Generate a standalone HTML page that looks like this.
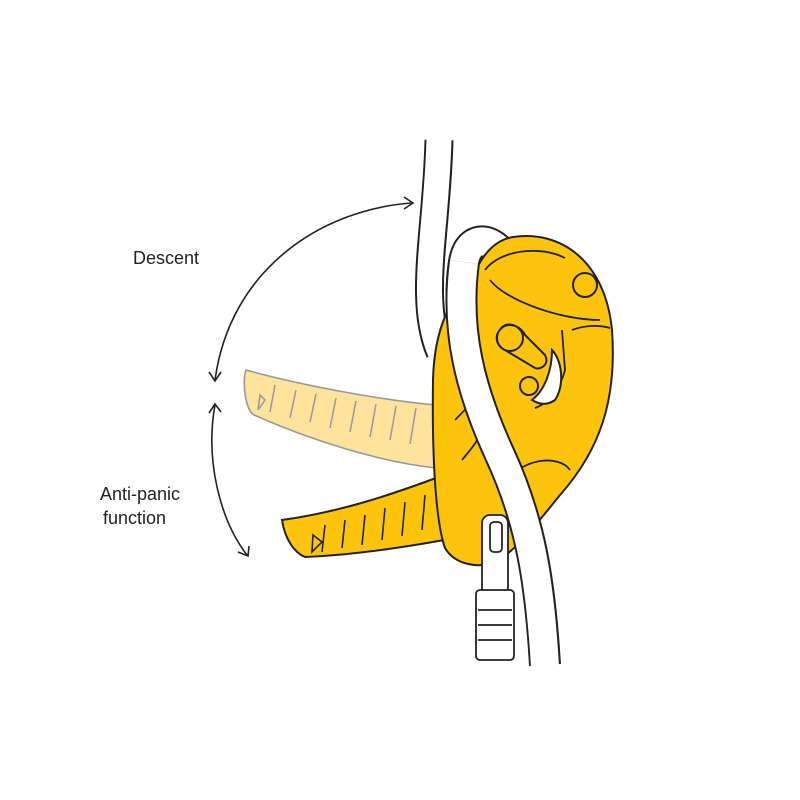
<!DOCTYPE html>
<html><head><style>body{margin:0;background:#fff}svg{display:block}</style></head><body>
<svg width="800" height="800" viewBox="0 0 800 800" xmlns="http://www.w3.org/2000/svg" font-family="Liberation Sans, sans-serif">
<rect width="800" height="800" fill="#fff"/>
<g fill="none" stroke="#222" stroke-width="1.6">
<path d="M411,203 C320,210 230,270 215,380"/>
<path d="M404,197 L413,203 L404,209"/>
<path d="M209,372 L215,381 L221,372"/>
<path d="M215,405 C205,460 220,520 247,555"/>
<path d="M209,413 L215,404 L221,412"/>
<path d="M238,552 L248,556 L249,546"/>
</g>
<text x="133" y="264" font-size="18" fill="#222">Descent</text>
<text x="100" y="500" font-size="18" fill="#222">Anti-panic</text>
<text x="103" y="524" font-size="18" fill="#222">function</text>
<path d="M439,140 C437,230 418,300 440,352" fill="none" stroke="#222" stroke-width="29" stroke-linecap="butt"/>
<path d="M439,138 C437,230 418,300 440,352" fill="none" stroke="#fff" stroke-width="25" stroke-linecap="butt"/>
<path d="M520,300 C510,236 470,226 464,262 C460,290 462,300 463,320" fill="none" stroke="#222" stroke-width="32" stroke-linecap="butt"/>
<path d="M520,300 C510,236 470,226 464,262 C460,290 462,300 463,320" fill="none" stroke="#fff" stroke-width="28" stroke-linecap="butt"/>
<path d="M246,370 C300,385 380,400 436,405 L436,468 C380,462 310,440 254,415 C245,410 242,380 246,370Z" fill="#fde39b" stroke="#999" stroke-width="1.6"/>
<g stroke="#999" stroke-width="1.5" fill="none">
<path d="M260,395 L258,410 L265,400Z M275,385 L270,412 M296,390 L290,418 M316,394 L310,422 M336,398 L330,428 M356,401 L350,432 M376,404 L370,437 M396,406 L390,440 M416,408 L410,444"/>
</g>
<path d="M282,520 C340,512 390,495 436,478 L444,540 C400,548 350,555 305,557 C295,553 285,540 282,520Z" fill="#fcc50c" stroke="#222" stroke-width="2"/>
<g stroke="#222" stroke-width="1.6" fill="none">
<path d="M313,535 L312,552 L322,542Z M325,525 L322,552 M345,520 L342,548 M365,515 L362,545 M385,508 L382,540 M405,502 L402,536 M425,495 L422,530"/>
</g>
<path d="M513,237 C560,230 605,260 612,330 C617,400 600,450 560,495 C540,520 520,545 500,560 C480,570 455,565 445,548 C435,520 432,450 433,380 C434,340 445,300 470,285 C480,255 495,240 513,237Z" fill="#fcc50c" stroke="#222" stroke-width="2"/>
<g fill="none" stroke="#222" stroke-width="1.8">
<path d="M485,270 C500,250 540,245 565,258"/>
<path d="M490,280 C505,300 560,320 600,320"/>
<path d="M572,330 C585,325 600,325 610,328"/>
<path d="M562,330 L565,370 C560,390 545,405 535,408"/>
<path d="M500,490 C520,455 560,455 570,470"/>
<path d="M455,420 C465,410 470,405 470,400"/>
<path d="M462,460 C470,450 480,440 480,430"/>
</g>
<circle cx="585" cy="285" r="12" fill="#fcc50c" stroke="#222" stroke-width="2"/>
<path d="M500,330 C505,320 520,325 525,335 L545,355 C550,365 540,370 535,368 L505,350 C495,345 495,335 500,330Z" fill="#fcc50c" stroke="#222" stroke-width="2"/>
<circle cx="510" cy="338" r="13" fill="#fcc50c" stroke="#222" stroke-width="2"/>
<path d="M552,350 C562,360 565,385 555,400 C548,405 540,405 532,400 C545,390 552,370 552,350Z" fill="#fff" stroke="#222" stroke-width="2"/>
<circle cx="529" cy="386" r="9" fill="#fcc50c" stroke="#222" stroke-width="2"/>
<path d="M464,262 C455,330 470,390 500,455 C530,520 540,580 545,665" fill="none" stroke="#222" stroke-width="32" stroke-linecap="butt"/>
<path d="M464,262 C455,330 470,390 500,455 C530,520 540,580 545,667" fill="none" stroke="#fff" stroke-width="28" stroke-linecap="butt"/>
<g stroke="#222" stroke-width="1.8" fill="#fff">
<rect x="482" y="515" width="26" height="80" rx="8"/>
<rect x="490" y="522" width="12" height="30" rx="4"/>
<rect x="476" y="590" width="38" height="70" rx="4"/>
<path d="M478,610 L512,610 M478,625 L512,625 M478,640 L512,640" fill="none"/>
</g>
</svg>
</body></html>
